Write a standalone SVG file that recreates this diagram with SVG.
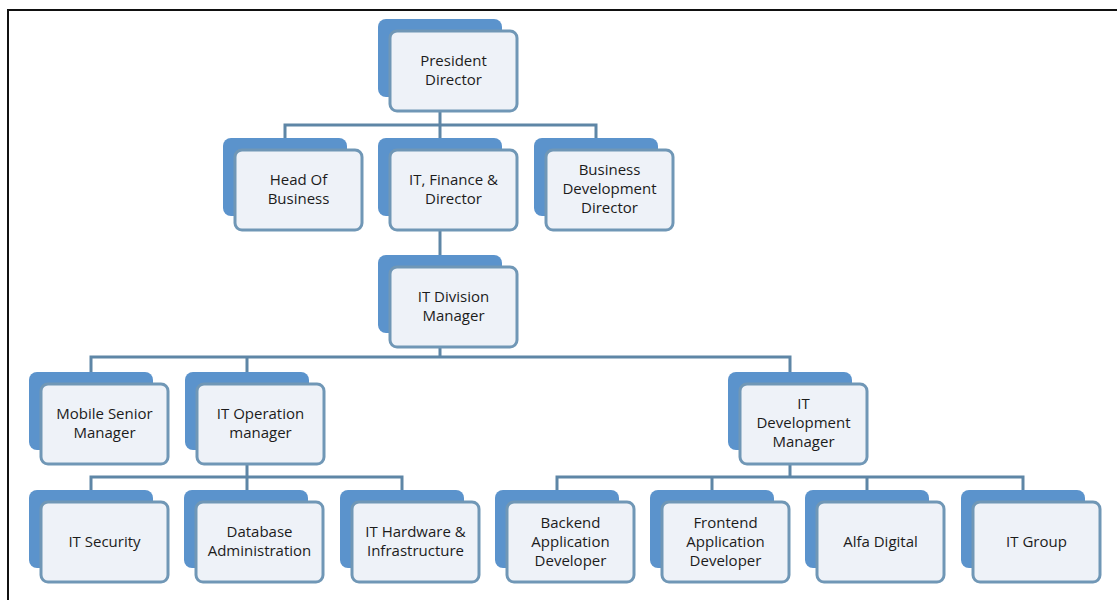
<svg xmlns="http://www.w3.org/2000/svg" width="1117" height="600" viewBox="0 0 1117 600">
<style>
.back{fill:#5b93cc}
.front{fill:#eef2f8;stroke:#7097b6;stroke-width:3}
.lbl{font-family:"Open Sans","Noto Sans","Liberation Sans",sans-serif;font-size:15px;fill:#1c1c1c;text-anchor:middle}
.conn{fill:none;stroke:#5e86a6;stroke-width:3}
.frame{fill:none;stroke:#111;stroke-width:2}
</style>
<rect width="1117" height="600" fill="#fff"/>
<path class="frame" d="M8,600 V10 H1117"/>
<g id="connectors" class="conn">
<path d="M440,111 V138 M285,138 V125 H596 V138"/>
<path d="M440,230 V255"/>
<path d="M440,347 V357 M91,372 V357 H790 V372 M247,357 V372"/>
<path d="M247,464 V477 M91,490 V477 H402 V490 M247,477 V490"/>
<path d="M790,464 V477 M557,490 V477 H1023 V490 M712,477 V490 M867,477 V490"/>
</g>
<g id="president">
<rect class="back" x="378" y="19" width="124" height="78" rx="8"/>
<rect class="front" x="390" y="31" width="127" height="80" rx="7"/>
<text class="lbl" x="453.5" y="66">President</text>
<text class="lbl" x="453.5" y="85">Director</text>
</g>
<g id="head-of-business">
<rect class="back" x="223" y="138" width="124" height="78" rx="8"/>
<rect class="front" x="235" y="150" width="127" height="80" rx="7"/>
<text class="lbl" x="298.5" y="185">Head Of</text>
<text class="lbl" x="298.5" y="204">Business</text>
</g>
<g id="it-finance-director">
<rect class="back" x="378" y="138" width="124" height="78" rx="8"/>
<rect class="front" x="390" y="150" width="127" height="80" rx="7"/>
<text class="lbl" x="453.5" y="185">IT, Finance &amp;</text>
<text class="lbl" x="453.5" y="204">Director</text>
</g>
<g id="business-development-director">
<rect class="back" x="534" y="138" width="124" height="78" rx="8"/>
<rect class="front" x="546" y="150" width="127" height="80" rx="7"/>
<text class="lbl" x="609.5" y="175">Business</text>
<text class="lbl" x="609.5" y="194">Development</text>
<text class="lbl" x="609.5" y="213">Director</text>
</g>
<g id="it-division-manager">
<rect class="back" x="378" y="255" width="124" height="78" rx="8"/>
<rect class="front" x="390" y="267" width="127" height="80" rx="7"/>
<text class="lbl" x="453.5" y="302">IT Division</text>
<text class="lbl" x="453.5" y="321">Manager</text>
</g>
<g id="mobile-senior-manager">
<rect class="back" x="29" y="372" width="124" height="78" rx="8"/>
<rect class="front" x="41" y="384" width="127" height="80" rx="7"/>
<text class="lbl" x="104.5" y="419">Mobile Senior</text>
<text class="lbl" x="104.5" y="438">Manager</text>
</g>
<g id="it-operation-manager">
<rect class="back" x="185" y="372" width="124" height="78" rx="8"/>
<rect class="front" x="197" y="384" width="127" height="80" rx="7"/>
<text class="lbl" x="260.5" y="419">IT Operation</text>
<text class="lbl" x="260.5" y="438">manager</text>
</g>
<g id="it-development-manager">
<rect class="back" x="728" y="372" width="124" height="78" rx="8"/>
<rect class="front" x="740" y="384" width="127" height="80" rx="7"/>
<text class="lbl" x="803.5" y="409">IT</text>
<text class="lbl" x="803.5" y="428">Development</text>
<text class="lbl" x="803.5" y="447">Manager</text>
</g>
<g id="it-security">
<rect class="back" x="29" y="490" width="124" height="78" rx="8"/>
<rect class="front" x="41" y="502" width="127" height="80" rx="7"/>
<text class="lbl" x="104.5" y="547">IT Security</text>
</g>
<g id="database-administration">
<rect class="back" x="184" y="490" width="124" height="78" rx="8"/>
<rect class="front" x="196" y="502" width="127" height="80" rx="7"/>
<text class="lbl" x="259.5" y="537">Database</text>
<text class="lbl" x="259.5" y="556">Administration</text>
</g>
<g id="it-hardware-infrastructure">
<rect class="back" x="340" y="490" width="124" height="78" rx="8"/>
<rect class="front" x="352" y="502" width="127" height="80" rx="7"/>
<text class="lbl" x="415.5" y="537">IT Hardware &amp;</text>
<text class="lbl" x="415.5" y="556">Infrastructure</text>
</g>
<g id="backend-application-developer">
<rect class="back" x="495" y="490" width="124" height="78" rx="8"/>
<rect class="front" x="507" y="502" width="127" height="80" rx="7"/>
<text class="lbl" x="570.5" y="528">Backend</text>
<text class="lbl" x="570.5" y="547">Application</text>
<text class="lbl" x="570.5" y="566">Developer</text>
</g>
<g id="frontend-application-developer">
<rect class="back" x="650" y="490" width="124" height="78" rx="8"/>
<rect class="front" x="662" y="502" width="127" height="80" rx="7"/>
<text class="lbl" x="725.5" y="528">Frontend</text>
<text class="lbl" x="725.5" y="547">Application</text>
<text class="lbl" x="725.5" y="566">Developer</text>
</g>
<g id="alfa-digital">
<rect class="back" x="805" y="490" width="124" height="78" rx="8"/>
<rect class="front" x="817" y="502" width="127" height="80" rx="7"/>
<text class="lbl" x="880.5" y="547">Alfa Digital</text>
</g>
<g id="it-group">
<rect class="back" x="961" y="490" width="124" height="78" rx="8"/>
<rect class="front" x="973" y="502" width="127" height="80" rx="7"/>
<text class="lbl" x="1036.5" y="547">IT Group</text>
</g>
</svg>
